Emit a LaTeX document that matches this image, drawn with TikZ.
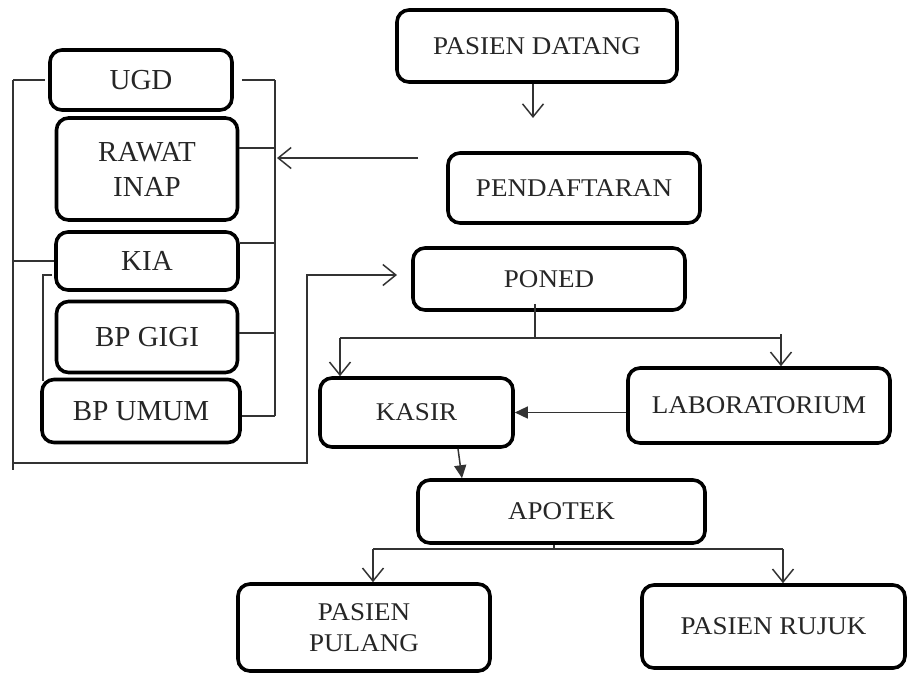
\documentclass[tikz,border=0pt]{standalone}
\usepackage{fontspec}
\setmainfont{Liberation Serif}
\newfontfamily\widefont{Liberation Serif}[FakeStretch=1.06]
\usetikzlibrary{arrows.meta,calc}
\begin{document}
\begin{tikzpicture}[x=1pt,y=-1pt,
 box/.style={draw,line width=3.6pt,rounded corners=12pt,align=center,inner sep=0pt,text=black!85},
 rbox/.style={box,font=\widefont\fontsize{25.5}{31}\selectfont},
 lbox/.style={box,font=\fontsize{29}{35}\selectfont},
 conn/.style={line width=1.5pt,black!80},
 open/.style={conn,-{Straight Barb[length=13pt,width=21pt]}},
 filled/.style={conn,-{Triangle[length=13pt,width=12pt]}}]
\useasboundingbox (0,0) rectangle (909,673);

% right column
\node[rbox,minimum width=280pt,minimum height=72pt] (datang) at (537,46) {PASIEN DATANG};
\node[rbox,minimum width=252pt,minimum height=70pt] (daftar) at (574,188) {PENDAFTARAN};
\node[rbox,minimum width=272pt,minimum height=62pt] (poned) at (549,279) {PONED};
\node[rbox,minimum width=193pt,minimum height=69pt] (kasir) at (416.5,412.5) {KASIR};
\node[rbox,minimum width=262pt,minimum height=75pt] (lab) at (759,405.5) {LABORATORIUM};
\node[rbox,minimum width=287pt,minimum height=63pt] (apotek) at (561.5,511.5) {APOTEK};
\node[rbox,minimum width=252pt,minimum height=87pt] (pulang) at (364,627.5) {PASIEN\\PULANG};
\node[rbox,minimum width=263pt,minimum height=83pt] (rujuk) at (773.5,626.5) {PASIEN RUJUK};

% left column
\node[lbox,minimum width=182pt,minimum height=60pt] (ugd) at (141,80) {UGD};
\node[lbox,minimum width=181pt,minimum height=102pt] (rawat) at (147,169) {RAWAT\\INAP};
\node[lbox,minimum width=182pt,minimum height=58pt] (kia) at (147,261) {KIA};
\node[lbox,minimum width=181pt,minimum height=71pt] (gigi) at (147,337) {BP GIGI};
\node[lbox,minimum width=198pt,minimum height=63pt] (umum) at (141,411) {BP UMUM};

% coordinates
\coordinate (rbT) at (275,80);
\coordinate (rbB) at (275,416);
\coordinate (rbA) at (277,158);
\coordinate (dfrom) at (418,158);
\coordinate (a1) at (533,118);
\coordinate (lbT) at (13,80);
\coordinate (lbB) at (13,470);
\coordinate (lbK) at (13,261);
\coordinate (lbC) at (13,463);
\coordinate (lbR) at (307,463);
\coordinate (lbU) at (307,275);
\coordinate (ponedIn) at (397,275);
\coordinate (ib1) at (52,275);
\coordinate (ib2) at (43,275);
\coordinate (ib3) at (43,381);
\coordinate (pj) at (535,338);
\coordinate (pL) at (340,338);
\coordinate (pR) at (781,338);
\coordinate (pRt) at (781,334);
\coordinate (aj) at (554,549);
\coordinate (aL) at (373,549);
\coordinate (aR) at (783,549);

% datang -> pendaftaran
\draw[open] (datang.south -| a1) -- (a1);
% pendaftaran -> left group
\draw[open] (dfrom) -- (rbA);

% right bracket
\draw[conn] (rbT) -- (rbB);
\draw[conn] ([xshift=8pt]ugd.east) -- (rbT);
\draw[conn] (rawat.east |- 0,148) -- (275,148);
\draw[conn] (kia.east |- 0,243) -- (275,243);
\draw[conn] (gigi.east |- 0,333) -- (275,333);
\draw[conn] (umum.east |- 0,416) -- (rbB);

% outer left bracket
\draw[conn] (lbT) -- (lbB);
\draw[conn] (lbT) -- ([xshift=-3pt]ugd.west);
\draw[conn] (lbK) -- (kia.west);
\draw[open] (lbC) -- (lbR) -- (lbU) -- (ponedIn);

% inner bracket KIA - BP UMUM
\draw[conn] (ib1) -- (ib2) -- (ib3);

% poned split
\draw[conn] ([yshift=8pt]poned.south -| pj) -- (pj);
\draw[conn] (pL) -- (pR);
\draw[open] (pL) -- (pL |- kasir.north);
\draw[open] (pRt) -- (pR |- lab.north);

% lab -> kasir
\draw[filled] (lab.west |- kasir.east) -- (kasir.east);
% kasir -> apotek
\draw[filled] ([xshift=41.5pt]kasir.south) -- ([xshift=-99.5pt]apotek.north);

% apotek split
\draw[conn] (apotek.south -| aj) -- (aj);
\draw[conn] (aL) -- (aR);
\draw[open] (aL) -- (aL |- pulang.north);
\draw[open] (aR) -- (aR |- rujuk.north);
\end{tikzpicture}
\end{document}
